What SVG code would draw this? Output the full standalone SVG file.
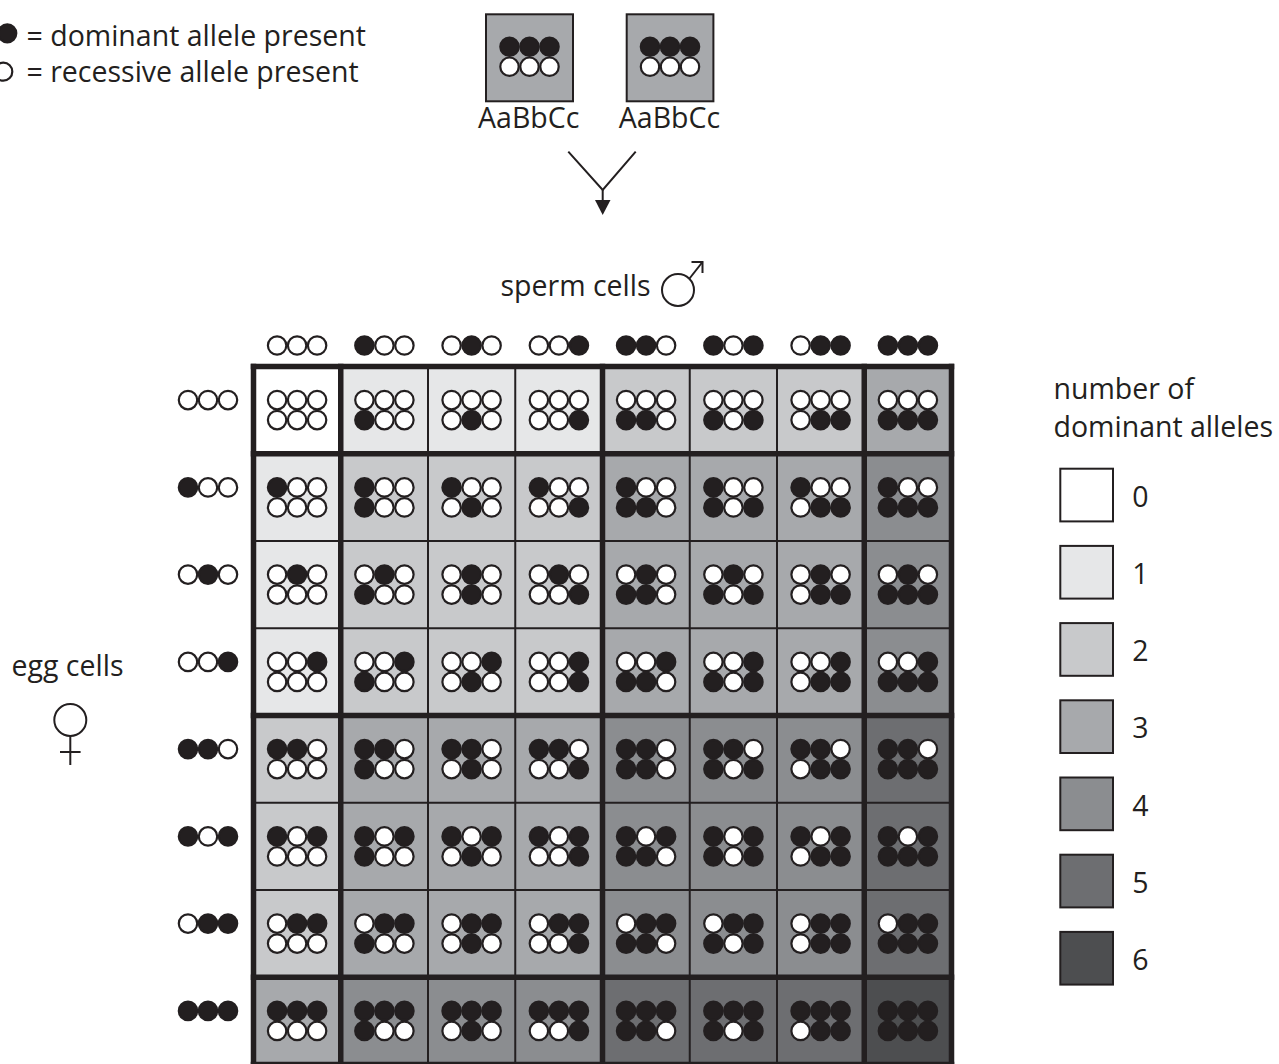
<svg xmlns="http://www.w3.org/2000/svg" width="1279" height="1064" viewBox="0 0 1279 1064">
<style>
text{font-family:"Open Sans","Liberation Sans",sans-serif;font-size:28.5px;fill:#231f20}
.k{fill:#231f20;stroke:#231f20;stroke-width:2.2}
.w{fill:#fff;stroke:#231f20;stroke-width:2.2}
.ln{stroke:#231f20;fill:none;stroke-width:2}
.thick{stroke:#231f20;fill:none;stroke-width:5.5;stroke-linecap:square}
.c0{fill:#ffffff}.c1{fill:#e6e7e8}.c2{fill:#c8c9cb}.c3{fill:#a7a9ac}.c4{fill:#8b8d90}.c5{fill:#6d6e71}.c6{fill:#4d4e50}
.box{stroke:#231f20;stroke-width:2}
</style>
<defs>
<g id="g0"><circle class="w" cx="-20" cy="0" r="9.2"/><circle class="w" cx="0" cy="0" r="9.2"/><circle class="w" cx="20" cy="0" r="9.2"/></g>
<g id="g1"><circle class="k" cx="-20" cy="0" r="9.2"/><circle class="w" cx="0" cy="0" r="9.2"/><circle class="w" cx="20" cy="0" r="9.2"/></g>
<g id="g2"><circle class="w" cx="-20" cy="0" r="9.2"/><circle class="k" cx="0" cy="0" r="9.2"/><circle class="w" cx="20" cy="0" r="9.2"/></g>
<g id="g3"><circle class="w" cx="-20" cy="0" r="9.2"/><circle class="w" cx="0" cy="0" r="9.2"/><circle class="k" cx="20" cy="0" r="9.2"/></g>
<g id="g4"><circle class="k" cx="-20" cy="0" r="9.2"/><circle class="k" cx="0" cy="0" r="9.2"/><circle class="w" cx="20" cy="0" r="9.2"/></g>
<g id="g5"><circle class="k" cx="-20" cy="0" r="9.2"/><circle class="w" cx="0" cy="0" r="9.2"/><circle class="k" cx="20" cy="0" r="9.2"/></g>
<g id="g6"><circle class="w" cx="-20" cy="0" r="9.2"/><circle class="k" cx="0" cy="0" r="9.2"/><circle class="k" cx="20" cy="0" r="9.2"/></g>
<g id="g7"><circle class="k" cx="-20" cy="0" r="9.2"/><circle class="k" cx="0" cy="0" r="9.2"/><circle class="k" cx="20" cy="0" r="9.2"/></g>
<rect id="sq" x="-43.7" y="-43.7" width="87.4" height="87.4"/>
</defs>

<g id="key">
<circle class="k" cx="7.3" cy="33.3" r="9"/>
<text x="26.5" y="45.7">= dominant allele present</text>
<circle class="w" cx="3.3" cy="71.7" r="9"/>
<text x="26.5" y="81.7">= recessive allele present</text>
</g>

<g id="parent-1">
<rect class="c3 box" x="486" y="14.3" width="87" height="87"/>
<use href="#g7" x="529.5" y="46.7"/>
<use href="#g0" x="529.5" y="66.7"/>
<text x="528.7" y="128.3" text-anchor="middle">AaBbCc</text>
</g>
<g id="parent-2">
<rect class="c3 box" x="626.7" y="14.3" width="86.7" height="87"/>
<use href="#g7" x="670" y="46.7"/>
<use href="#g0" x="670" y="66.7"/>
<text x="669.5" y="128.3" text-anchor="middle">AaBbCc</text>
</g>

<g id="connectors">
<polyline class="ln" points="568.3,151.7 602.7,190 635.7,151.7"/>
<line class="ln" x1="602.7" y1="190" x2="602.7" y2="202"/>
<polygon points="595,200 610.5,200 602.7,215" fill="#231f20"/>
</g>

<g id="sperm-label">
<text x="500.5" y="296">sperm cells</text>
<circle class="ln" cx="678" cy="290" r="16"/>
<polyline class="ln" points="689.5,278.5 702.5,262"/>
<polyline class="ln" points="691.5,262 702.5,262 702.5,273"/>
</g>

<g id="egg-label">
<text x="11.5" y="676">egg cells</text>
<circle class="ln" cx="70.3" cy="720" r="16"/>
<line class="ln" x1="70.3" y1="736" x2="70.3" y2="765"/>
<line class="ln" x1="60" y1="752" x2="80.6" y2="752"/>
</g>

<g id="sperm-headers">
<use href="#g0" x="297.1" y="345.5"/>
<use href="#g1" x="384.4" y="345.5"/>
<use href="#g2" x="471.6" y="345.5"/>
<use href="#g3" x="558.9" y="345.5"/>
<use href="#g4" x="646.1" y="345.5"/>
<use href="#g5" x="733.4" y="345.5"/>
<use href="#g6" x="820.6" y="345.5"/>
<use href="#g7" x="907.9" y="345.5"/>
</g>
<g id="egg-headers">
<use href="#g0" x="208" y="400.1"/>
<use href="#g1" x="208" y="487.4"/>
<use href="#g2" x="208" y="574.6"/>
<use href="#g3" x="208" y="661.9"/>
<use href="#g4" x="208" y="749.1"/>
<use href="#g5" x="208" y="836.4"/>
<use href="#g6" x="208" y="923.6"/>
<use href="#g7" x="208" y="1010.9"/>
</g>

<g id="cells">
<g id="cell-0-0" transform="translate(297.1,410.1)"><use href="#sq" class="c0"/><use href="#g0" y="-10"/><use href="#g0" y="10"/></g>
<g id="cell-0-1" transform="translate(384.4,410.1)"><use href="#sq" class="c1"/><use href="#g0" y="-10"/><use href="#g1" y="10"/></g>
<g id="cell-0-2" transform="translate(471.6,410.1)"><use href="#sq" class="c1"/><use href="#g0" y="-10"/><use href="#g2" y="10"/></g>
<g id="cell-0-3" transform="translate(558.9,410.1)"><use href="#sq" class="c1"/><use href="#g0" y="-10"/><use href="#g3" y="10"/></g>
<g id="cell-0-4" transform="translate(646.1,410.1)"><use href="#sq" class="c2"/><use href="#g0" y="-10"/><use href="#g4" y="10"/></g>
<g id="cell-0-5" transform="translate(733.4,410.1)"><use href="#sq" class="c2"/><use href="#g0" y="-10"/><use href="#g5" y="10"/></g>
<g id="cell-0-6" transform="translate(820.6,410.1)"><use href="#sq" class="c2"/><use href="#g0" y="-10"/><use href="#g6" y="10"/></g>
<g id="cell-0-7" transform="translate(907.9,410.1)"><use href="#sq" class="c3"/><use href="#g0" y="-10"/><use href="#g7" y="10"/></g>

<g id="cell-1-0" transform="translate(297.1,497.4)"><use href="#sq" class="c1"/><use href="#g1" y="-10"/><use href="#g0" y="10"/></g>
<g id="cell-1-1" transform="translate(384.4,497.4)"><use href="#sq" class="c2"/><use href="#g1" y="-10"/><use href="#g1" y="10"/></g>
<g id="cell-1-2" transform="translate(471.6,497.4)"><use href="#sq" class="c2"/><use href="#g1" y="-10"/><use href="#g2" y="10"/></g>
<g id="cell-1-3" transform="translate(558.9,497.4)"><use href="#sq" class="c2"/><use href="#g1" y="-10"/><use href="#g3" y="10"/></g>
<g id="cell-1-4" transform="translate(646.1,497.4)"><use href="#sq" class="c3"/><use href="#g1" y="-10"/><use href="#g4" y="10"/></g>
<g id="cell-1-5" transform="translate(733.4,497.4)"><use href="#sq" class="c3"/><use href="#g1" y="-10"/><use href="#g5" y="10"/></g>
<g id="cell-1-6" transform="translate(820.6,497.4)"><use href="#sq" class="c3"/><use href="#g1" y="-10"/><use href="#g6" y="10"/></g>
<g id="cell-1-7" transform="translate(907.9,497.4)"><use href="#sq" class="c4"/><use href="#g1" y="-10"/><use href="#g7" y="10"/></g>

<g id="cell-2-0" transform="translate(297.1,584.6)"><use href="#sq" class="c1"/><use href="#g2" y="-10"/><use href="#g0" y="10"/></g>
<g id="cell-2-1" transform="translate(384.4,584.6)"><use href="#sq" class="c2"/><use href="#g2" y="-10"/><use href="#g1" y="10"/></g>
<g id="cell-2-2" transform="translate(471.6,584.6)"><use href="#sq" class="c2"/><use href="#g2" y="-10"/><use href="#g2" y="10"/></g>
<g id="cell-2-3" transform="translate(558.9,584.6)"><use href="#sq" class="c2"/><use href="#g2" y="-10"/><use href="#g3" y="10"/></g>
<g id="cell-2-4" transform="translate(646.1,584.6)"><use href="#sq" class="c3"/><use href="#g2" y="-10"/><use href="#g4" y="10"/></g>
<g id="cell-2-5" transform="translate(733.4,584.6)"><use href="#sq" class="c3"/><use href="#g2" y="-10"/><use href="#g5" y="10"/></g>
<g id="cell-2-6" transform="translate(820.6,584.6)"><use href="#sq" class="c3"/><use href="#g2" y="-10"/><use href="#g6" y="10"/></g>
<g id="cell-2-7" transform="translate(907.9,584.6)"><use href="#sq" class="c4"/><use href="#g2" y="-10"/><use href="#g7" y="10"/></g>

<g id="cell-3-0" transform="translate(297.1,671.9)"><use href="#sq" class="c1"/><use href="#g3" y="-10"/><use href="#g0" y="10"/></g>
<g id="cell-3-1" transform="translate(384.4,671.9)"><use href="#sq" class="c2"/><use href="#g3" y="-10"/><use href="#g1" y="10"/></g>
<g id="cell-3-2" transform="translate(471.6,671.9)"><use href="#sq" class="c2"/><use href="#g3" y="-10"/><use href="#g2" y="10"/></g>
<g id="cell-3-3" transform="translate(558.9,671.9)"><use href="#sq" class="c2"/><use href="#g3" y="-10"/><use href="#g3" y="10"/></g>
<g id="cell-3-4" transform="translate(646.1,671.9)"><use href="#sq" class="c3"/><use href="#g3" y="-10"/><use href="#g4" y="10"/></g>
<g id="cell-3-5" transform="translate(733.4,671.9)"><use href="#sq" class="c3"/><use href="#g3" y="-10"/><use href="#g5" y="10"/></g>
<g id="cell-3-6" transform="translate(820.6,671.9)"><use href="#sq" class="c3"/><use href="#g3" y="-10"/><use href="#g6" y="10"/></g>
<g id="cell-3-7" transform="translate(907.9,671.9)"><use href="#sq" class="c4"/><use href="#g3" y="-10"/><use href="#g7" y="10"/></g>

<g id="cell-4-0" transform="translate(297.1,759.1)"><use href="#sq" class="c2"/><use href="#g4" y="-10"/><use href="#g0" y="10"/></g>
<g id="cell-4-1" transform="translate(384.4,759.1)"><use href="#sq" class="c3"/><use href="#g4" y="-10"/><use href="#g1" y="10"/></g>
<g id="cell-4-2" transform="translate(471.6,759.1)"><use href="#sq" class="c3"/><use href="#g4" y="-10"/><use href="#g2" y="10"/></g>
<g id="cell-4-3" transform="translate(558.9,759.1)"><use href="#sq" class="c3"/><use href="#g4" y="-10"/><use href="#g3" y="10"/></g>
<g id="cell-4-4" transform="translate(646.1,759.1)"><use href="#sq" class="c4"/><use href="#g4" y="-10"/><use href="#g4" y="10"/></g>
<g id="cell-4-5" transform="translate(733.4,759.1)"><use href="#sq" class="c4"/><use href="#g4" y="-10"/><use href="#g5" y="10"/></g>
<g id="cell-4-6" transform="translate(820.6,759.1)"><use href="#sq" class="c4"/><use href="#g4" y="-10"/><use href="#g6" y="10"/></g>
<g id="cell-4-7" transform="translate(907.9,759.1)"><use href="#sq" class="c5"/><use href="#g4" y="-10"/><use href="#g7" y="10"/></g>

<g id="cell-5-0" transform="translate(297.1,846.4)"><use href="#sq" class="c2"/><use href="#g5" y="-10"/><use href="#g0" y="10"/></g>
<g id="cell-5-1" transform="translate(384.4,846.4)"><use href="#sq" class="c3"/><use href="#g5" y="-10"/><use href="#g1" y="10"/></g>
<g id="cell-5-2" transform="translate(471.6,846.4)"><use href="#sq" class="c3"/><use href="#g5" y="-10"/><use href="#g2" y="10"/></g>
<g id="cell-5-3" transform="translate(558.9,846.4)"><use href="#sq" class="c3"/><use href="#g5" y="-10"/><use href="#g3" y="10"/></g>
<g id="cell-5-4" transform="translate(646.1,846.4)"><use href="#sq" class="c4"/><use href="#g5" y="-10"/><use href="#g4" y="10"/></g>
<g id="cell-5-5" transform="translate(733.4,846.4)"><use href="#sq" class="c4"/><use href="#g5" y="-10"/><use href="#g5" y="10"/></g>
<g id="cell-5-6" transform="translate(820.6,846.4)"><use href="#sq" class="c4"/><use href="#g5" y="-10"/><use href="#g6" y="10"/></g>
<g id="cell-5-7" transform="translate(907.9,846.4)"><use href="#sq" class="c5"/><use href="#g5" y="-10"/><use href="#g7" y="10"/></g>

<g id="cell-6-0" transform="translate(297.1,933.6)"><use href="#sq" class="c2"/><use href="#g6" y="-10"/><use href="#g0" y="10"/></g>
<g id="cell-6-1" transform="translate(384.4,933.6)"><use href="#sq" class="c3"/><use href="#g6" y="-10"/><use href="#g1" y="10"/></g>
<g id="cell-6-2" transform="translate(471.6,933.6)"><use href="#sq" class="c3"/><use href="#g6" y="-10"/><use href="#g2" y="10"/></g>
<g id="cell-6-3" transform="translate(558.9,933.6)"><use href="#sq" class="c3"/><use href="#g6" y="-10"/><use href="#g3" y="10"/></g>
<g id="cell-6-4" transform="translate(646.1,933.6)"><use href="#sq" class="c4"/><use href="#g6" y="-10"/><use href="#g4" y="10"/></g>
<g id="cell-6-5" transform="translate(733.4,933.6)"><use href="#sq" class="c4"/><use href="#g6" y="-10"/><use href="#g5" y="10"/></g>
<g id="cell-6-6" transform="translate(820.6,933.6)"><use href="#sq" class="c4"/><use href="#g6" y="-10"/><use href="#g6" y="10"/></g>
<g id="cell-6-7" transform="translate(907.9,933.6)"><use href="#sq" class="c5"/><use href="#g6" y="-10"/><use href="#g7" y="10"/></g>

<g id="cell-7-0" transform="translate(297.1,1020.9)"><use href="#sq" class="c3"/><use href="#g7" y="-10"/><use href="#g0" y="10"/></g>
<g id="cell-7-1" transform="translate(384.4,1020.9)"><use href="#sq" class="c4"/><use href="#g7" y="-10"/><use href="#g1" y="10"/></g>
<g id="cell-7-2" transform="translate(471.6,1020.9)"><use href="#sq" class="c4"/><use href="#g7" y="-10"/><use href="#g2" y="10"/></g>
<g id="cell-7-3" transform="translate(558.9,1020.9)"><use href="#sq" class="c4"/><use href="#g7" y="-10"/><use href="#g3" y="10"/></g>
<g id="cell-7-4" transform="translate(646.1,1020.9)"><use href="#sq" class="c5"/><use href="#g7" y="-10"/><use href="#g4" y="10"/></g>
<g id="cell-7-5" transform="translate(733.4,1020.9)"><use href="#sq" class="c5"/><use href="#g7" y="-10"/><use href="#g5" y="10"/></g>
<g id="cell-7-6" transform="translate(820.6,1020.9)"><use href="#sq" class="c5"/><use href="#g7" y="-10"/><use href="#g6" y="10"/></g>
<g id="cell-7-7" transform="translate(907.9,1020.9)"><use href="#sq" class="c6"/><use href="#g7" y="-10"/><use href="#g7" y="10"/></g>
</g>

<g id="grid-lines">
<line class="ln" x1="428" y1="366.5" x2="428" y2="1064.5"/>
<line class="ln" x1="515.25" y1="366.5" x2="515.25" y2="1064.5"/>
<line class="ln" x1="689.75" y1="366.5" x2="689.75" y2="1064.5"/>
<line class="ln" x1="777" y1="366.5" x2="777" y2="1064.5"/>
<line class="ln" x1="253.5" y1="541" x2="951.5" y2="541"/>
<line class="ln" x1="253.5" y1="628.25" x2="951.5" y2="628.25"/>
<line class="ln" x1="253.5" y1="802.75" x2="951.5" y2="802.75"/>
<line class="ln" x1="253.5" y1="890" x2="951.5" y2="890"/>
<line class="thick" x1="253.5" y1="366.5" x2="253.5" y2="1064.5"/>
<line class="thick" x1="340.75" y1="366.5" x2="340.75" y2="1064.5"/>
<line class="thick" x1="602.5" y1="366.5" x2="602.5" y2="1064.5"/>
<line class="thick" x1="864.25" y1="366.5" x2="864.25" y2="1064.5"/>
<line class="thick" x1="951.5" y1="366.5" x2="951.5" y2="1064.5"/>
<line class="thick" x1="253.5" y1="366.5" x2="951.5" y2="366.5"/>
<line class="thick" x1="253.5" y1="453.75" x2="951.5" y2="453.75"/>
<line class="thick" x1="253.5" y1="715.5" x2="951.5" y2="715.5"/>
<line class="thick" x1="253.5" y1="977.25" x2="951.5" y2="977.25"/>
<line class="thick" x1="253.5" y1="1064.5" x2="951.5" y2="1064.5"/>
</g>

<g id="legend">
<text x="1053.5" y="399.3">number of</text>
<text x="1053.5" y="436.7">dominant alleles</text>
<g id="legend-0"><rect class="c0 box" x="1060.3" y="468.7" width="52.7" height="52.7"/><text x="1140.5" y="506.7" text-anchor="middle">0</text></g>
<g id="legend-1"><rect class="c1 box" x="1060.3" y="545.9" width="52.7" height="52.7"/><text x="1140.5" y="583.9" text-anchor="middle">1</text></g>
<g id="legend-2"><rect class="c2 box" x="1060.3" y="623.1" width="52.7" height="52.7"/><text x="1140.5" y="661.1" text-anchor="middle">2</text></g>
<g id="legend-3"><rect class="c3 box" x="1060.3" y="700.3" width="52.7" height="52.7"/><text x="1140.5" y="738.3" text-anchor="middle">3</text></g>
<g id="legend-4"><rect class="c4 box" x="1060.3" y="777.5" width="52.7" height="52.7"/><text x="1140.5" y="815.5" text-anchor="middle">4</text></g>
<g id="legend-5"><rect class="c5 box" x="1060.3" y="854.7" width="52.7" height="52.7"/><text x="1140.5" y="892.7" text-anchor="middle">5</text></g>
<g id="legend-6"><rect class="c6 box" x="1060.3" y="931.9" width="52.7" height="52.7"/><text x="1140.5" y="969.9" text-anchor="middle">6</text></g>
</g>
</svg>
